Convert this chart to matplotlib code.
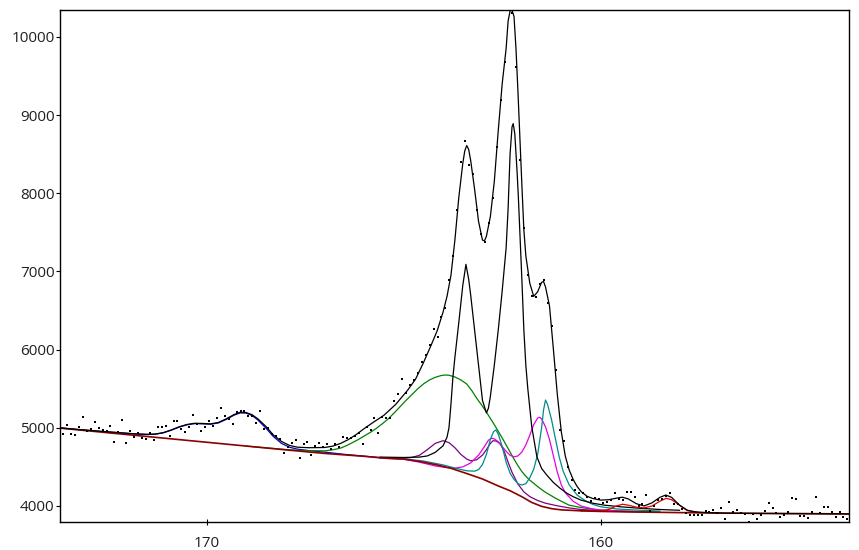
import matplotlib
matplotlib.use("Agg")
import matplotlib.pyplot as plt
import numpy as np

# binding energy grid of the measured points (eV), 0.1 eV step
be_data = np.round(np.arange(173.64, 153.70, -0.1), 2)
counts = [
    4917, 5036, 4917, 4908, 5006, 5142, 4959, 4985, 5078, 5002,
    4972, 4959, 5027, 4822, 4950, 5100, 4810, 4963, 4880, 4934,
    4874, 4853, 4930, 4850, 5010, 5010, 5027, 4900, 5083, 5091,
    4990, 4950, 5006, 5164, 5053, 4960, 5010, 5091, 5027, 5120,
    5250, 5155, 5113, 5050, 5206, 5219, 5219, 5155, 5150, 5060,
    5219, 4990, 4994, 4920, 4900, 4860, 4674, 4760, 4802, 4850,
    4610, 4790, 4820, 4650, 4770, 4810, 4760, 4790, 4730, 4790,
    4760, 4886, 4866, 4870, 4900, 4930, 4789, 5014, 4972, 5121,
    4930, 5142, 5121, 5130, 5343, 5432, 5620, 5441, 5548, 5610,
    5697, 5846, 5931, 6059, 6264, 6158, 6421, 6528, 6891, 7200,
    7780, 8400, 8672, 8361, 8240, 7790, 7480, 7380, 7620, 7940,
    8595, 9193, 9683, 10352, 10309, 9619, 8425, 7560, 6950, 6690,
    6670, 6840, 6890, 6593, 6300, 5740, 4972, 4830, 4503, 4333,
    4205, 4162, 4162, 4110, 4060, 4098, 4085, 4035, 4050, 4077,
    4170, 4090, 4080, 4183, 4183, 4111, 4004, 4030, 4141, 3936,
    4000, 4077, 4090, 4132, 4162, 4026, 4026, 3960, 3907, 3885,
    3880, 3885, 3890, 3940, 3920, 3949, 3905, 3970, 3830, 4055,
    3920, 3949, 3915, 3895, 3800, 3900, 3830, 3885, 3930, 4035,
    3970, 3905, 3863, 3880, 3920, 4098, 4085, 3870, 3870, 3850,
    3925, 4111, 3910, 3983, 3991, 3928, 3863, 3928, 3863, 3830,
]

# fitted envelope
env_be = [173.7, 173.4, 173.0, 172.6, 172.2, 171.8, 171.5, 171.3, 171.1, 170.9,
          170.7, 170.5, 170.3, 170.1, 169.9, 169.7, 169.5, 169.3, 169.15, 169.0,
          168.85, 168.7, 168.5, 168.3, 168.1, 167.9, 167.7, 167.4, 167.0, 166.8,
          166.6, 166.4, 166.2, 166.0, 165.8, 165.5, 165.2, 164.9, 164.7, 164.5,
          164.3, 164.15, 164.0, 163.9, 163.8, 163.7, 163.6, 163.5, 163.45, 163.4,
          163.35, 163.3, 163.2, 163.1, 163.0, 162.95, 162.9, 162.8, 162.7, 162.6,
          162.5, 162.4, 162.35, 162.3, 162.25, 162.2, 162.15, 162.1, 162.05, 162.0,
          161.95, 161.9, 161.8, 161.7, 161.6, 161.5, 161.45, 161.4, 161.3, 161.2,
          161.1, 161.0, 160.9, 160.8, 160.7, 160.6, 160.5, 160.35, 160.2, 160.0,
          159.8, 159.6, 159.45, 159.3, 159.1, 158.9, 158.7, 158.5, 158.35, 158.2,
          158.0, 157.8, 157.6, 157.3, 156.8, 156.0, 155.0, 153.7]
env_val = [5000, 4985, 4968, 4952, 4937, 4922, 4916, 4920, 4938, 4972,
           5012, 5042, 5058, 5055, 5050, 5068, 5115, 5170, 5198, 5195,
           5168, 5115, 5020, 4905, 4825, 4775, 4752, 4745, 4748, 4765,
           4800, 4850, 4915, 4990, 5060, 5160, 5300, 5480, 5620, 5830,
           6060, 6240, 6480, 6680, 6950, 7400, 7950, 8380, 8540, 8610,
           8560, 8420, 8050, 7640, 7400, 7390, 7450, 7700, 8150, 8800,
           9400, 9850, 10200, 10330, 10340, 10260, 9850, 9300, 8700, 8100,
           7530, 7200, 6850, 6680, 6740, 6860, 6870, 6800, 6560, 6000,
           5420, 4950, 4640, 4460, 4340, 4250, 4185, 4125, 4095, 4075,
           4080, 4100, 4112, 4090, 4030, 4000, 4040, 4110, 4140, 4110,
           4010, 3945, 3925, 3915, 3907, 3904, 3901, 3898]

# Shirley background
bg_be = [173.7, 172.0, 170.0, 168.0, 167.0, 166.0, 165.5, 165.0, 164.6, 164.2,
         163.8, 163.4, 163.0, 162.6, 162.3, 162.0, 161.75, 161.5, 161.25, 161.0,
         160.5, 160.0, 159.0, 158.0, 157.0, 156.0, 155.0, 153.7]
bg_val = [4995, 4912, 4815, 4718, 4672, 4635, 4612, 4600, 4570, 4530,
          4482, 4415, 4345, 4256, 4195, 4118, 4045, 3995, 3966, 3950,
          3938, 3930, 3922, 3915, 3910, 3906, 3903, 3898]

# components (including background)
blue_be = [173.7, 173.4, 173.0, 172.6, 172.2, 171.8, 171.5, 171.3, 171.1, 170.9,
           170.7, 170.5, 170.3, 170.1, 169.9, 169.7, 169.5, 169.3, 169.15, 169.0,
           168.85, 168.7, 168.5, 168.3, 168.1, 167.9, 167.7, 167.4, 167.0, 166.5,
           166.0, 165.5]
blue_val = [4995, 4982, 4966, 4950, 4935, 4920, 4914, 4918, 4935, 4968,
            5008, 5038, 5053, 5050, 5045, 5062, 5108, 5162, 5190, 5188,
            5158, 5100, 4998, 4885, 4800, 4752, 4727, 4708, 4688, 4660,
            4637, 4614]

green_be = [169.0, 168.0, 167.5, 167.0, 166.8, 166.6, 166.45, 166.3, 166.15, 166.0,
            165.85, 165.7, 165.55, 165.4, 165.25, 165.1, 164.95, 164.8, 164.65, 164.5,
            164.35, 164.2, 164.05, 163.95, 163.85, 163.7, 163.55, 163.4, 163.27, 163.15,
            163.02, 162.9, 162.8, 162.7, 162.6, 162.5, 162.4, 162.3, 162.2, 162.1,
            162.0, 161.9, 161.8, 161.7, 161.6, 161.5, 161.4, 161.3, 161.15, 161.0,
            160.8, 160.5, 160.2, 160.0, 159.5, 159.0, 158.5]
green_val = [4766, 4722, 4708, 4705, 4718, 4740, 4772, 4810, 4850, 4895,
             4940, 4990, 5048, 5110, 5185, 5265, 5345, 5420, 5495, 5560,
             5610, 5645, 5668, 5675, 5672, 5650, 5612, 5560, 5475, 5380,
             5290, 5200, 5120, 5040, 4955, 4870, 4780, 4690, 4600, 4515,
             4440, 4380, 4330, 4290, 4248, 4210, 4175, 4145, 4100, 4060,
             4010, 3980, 3960, 3948, 3937, 3930, 3922]

black_be = [165.6, 165.0, 164.6, 164.4, 164.2, 164.0, 163.9, 163.85, 163.8, 163.75,
            163.7, 163.6, 163.5, 163.42, 163.35, 163.3, 163.2, 163.1, 163.0, 162.9,
            162.85, 162.8, 162.7, 162.6, 162.5, 162.4, 162.35, 162.3, 162.25, 162.22,
            162.18, 162.12, 162.09, 162.0, 161.95, 161.9, 161.85, 161.75, 161.62, 161.5,
            161.37, 161.2, 161.03, 160.85, 160.7, 160.5, 160.2, 159.9, 159.5, 159.0,
            158.5, 158.0]
black_val = [4625, 4620, 4625, 4640, 4685, 4770, 4880, 5000, 5300, 5650,
             5900, 6350, 6820, 7090, 6900, 6700, 6250, 5800, 5350, 5190,
             5250, 5400, 5800, 6250, 6750, 7300, 7800, 8500, 8850, 8890,
             8760, 8255, 7956, 6890, 6250, 5800, 5500, 5014, 4630, 4480,
             4396, 4300, 4226, 4160, 4119, 4075, 4035, 4010, 3990, 3970,
             3955, 3945]

teal_be = [165.6, 165.0, 164.5, 164.0, 163.7, 163.4, 163.2, 163.1, 163.0, 162.9,
           162.8, 162.72, 162.66, 162.6, 162.5, 162.4, 162.3, 162.2, 162.1, 162.0,
           161.9, 161.8, 161.7, 161.6, 161.5, 161.45, 161.4, 161.35, 161.25, 161.15,
           161.05, 160.95, 160.8, 160.6, 160.4, 160.2, 160.0, 159.6, 159.0, 158.5]
teal_val = [4615, 4602, 4575, 4525, 4485, 4450, 4445, 4465, 4530, 4660,
            4850, 4950, 4972, 4920, 4760, 4560, 4420, 4340, 4285, 4268,
            4285, 4360, 4470, 4660, 5000, 5230, 5355, 5300, 5110, 4860,
            4620, 4440, 4270, 4140, 4070, 4020, 3990, 3962, 3945, 3935]

magenta_be = [165.6, 165.0, 164.6, 164.2, 163.9, 163.7, 163.5, 163.3, 163.1, 162.95,
              162.85, 162.77, 162.7, 162.6, 162.5, 162.4, 162.3, 162.2, 162.1, 162.0,
              161.9, 161.8, 161.7, 161.6, 161.55, 161.5, 161.4, 161.3, 161.2, 161.1,
              161.0, 160.9, 160.7, 160.5, 160.2, 160.0, 159.5, 159.0]
magenta_val = [4612, 4598, 4560, 4512, 4490, 4483, 4500, 4550, 4650, 4760,
               4840, 4866, 4858, 4822, 4760, 4700, 4648, 4628, 4640, 4690,
               4780, 4905, 5040, 5125, 5134, 5115, 5010, 4850, 4640, 4430,
               4270, 4170, 4060, 4000, 3960, 3948, 3935, 3927]

purple_be = [165.6, 165.0, 164.8, 164.6, 164.4, 164.2, 164.0, 163.85, 163.7, 163.55,
             163.4, 163.3, 163.15, 163.0, 162.9, 162.8, 162.73, 162.65, 162.55, 162.45,
             162.35, 162.25, 162.1, 161.95, 161.8, 161.6, 161.4, 161.1, 160.8, 160.5,
             160.0, 159.5, 159.0]
purple_val = [4620, 4610, 4620, 4648, 4720, 4800, 4835, 4810, 4745, 4660,
              4600, 4578, 4590, 4650, 4720, 4800, 4835, 4830, 4795, 4700,
              4560, 4430, 4280, 4180, 4120, 4070, 4035, 4002, 3975, 3955,
              3940, 3930, 3925]

red_be = [160.5, 160.0, 159.8, 159.6, 159.45, 159.3, 159.1, 158.9, 158.7, 158.5,
          158.34, 158.2, 158.0, 157.8, 157.5, 157.0]
red_val = [3937, 3935, 3955, 4000, 4022, 4010, 3985, 3975, 4000, 4060,
           4098, 4080, 4010, 3940, 3915, 3910]

components = [
    (blue_be, blue_val, "#0000c8"),
    (green_be, green_val, "#008000"),
    (purple_be, purple_val, "#800080"),
    (magenta_be, magenta_val, "#e600e6"),
    (teal_be, teal_val, "#008b8b"),
    (black_be, black_val, "black"),
    (red_be, red_val, "#e00000"),
]

fig = plt.figure(figsize=(8.59, 5.50), dpi=100)
ax = fig.add_axes([60 / 859, 28 / 550, 789 / 859, 512 / 550])

for xs, ys, col in components:
    ax.plot(xs, ys, color=col, linewidth=0.9)

ax.plot(bg_be, bg_val, color="#8b0000", linewidth=1.2)
ax.plot(env_be, env_val, color="black", linewidth=0.9)
ax.plot(be_data, counts, "s", color="black", markersize=2.0, markeredgewidth=0)

ax.set_xlim(173.72, 153.70)
ax.set_ylim(3795, 10343)
ax.set_xticks([170, 160])
ax.set_yticks([4000, 5000, 6000, 7000, 8000, 9000, 10000])

for sp in ax.spines.values():
    sp.set_linewidth(1.0)
ax.tick_params(axis="y", direction="out", length=3, width=0.8, pad=1,
               labelsize=11)
ax.tick_params(axis="x", direction="inout", length=4, width=0.8, pad=8,
               labelsize=11)
for lab in ax.get_xticklabels() + ax.get_yticklabels():
    lab.set_family("Open Sans")
    lab.set_color("#202020")

fig.savefig("out.png", dpi=100)
